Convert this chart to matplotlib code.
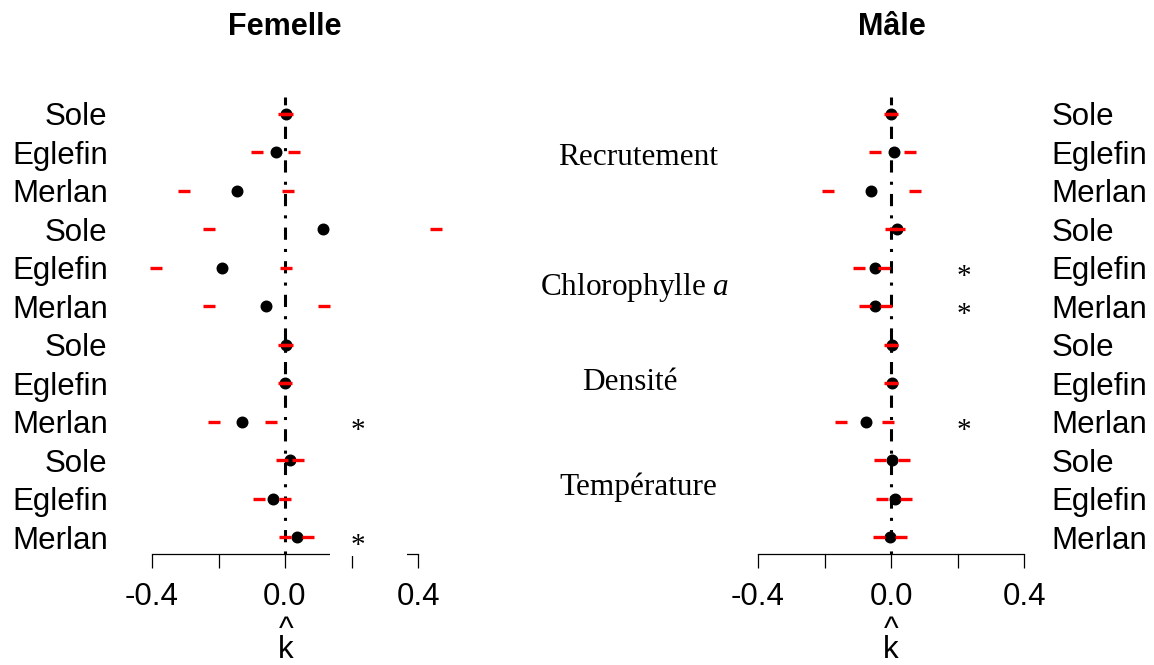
import numpy as np
import matplotlib
matplotlib.use("Agg")
import matplotlib.pyplot as plt
from matplotlib.patches import Rectangle
import matplotlib.transforms as mtransforms

plt.rcParams['font.family'] = ['Liberation Sans', 'DejaVu Sans']
plt.rcParams['mathtext.fontset'] = 'custom'
plt.rcParams['mathtext.rm'] = 'Liberation Serif'
plt.rcParams['mathtext.it'] = 'Liberation Serif:italic'

# lignes de haut en bas
especes = ['Sole', 'Eglefin', 'Merlan'] * 4
facteurs = ['Recrutement', 'Chlorophylle $a$', 'Densité', 'Température']

k_femelle = [0.002, -0.026, -0.144, 0.115, -0.189, -0.056,
             0.003, 0.001, -0.130, 0.016, -0.035, 0.036]
bas_femelle = [-0.003, -0.084, -0.304, -0.229, -0.387, -0.229,
               -0.003, -0.002, -0.214, -0.009, -0.079, 0.000]
haut_femelle = [0.005, 0.027, 0.009, 0.453, 0.004, 0.117,
                0.006, 0.003, -0.042, 0.039, 0.000, 0.069]
etoile_femelle = [0, 0, 0, 0, 0, 0, 0, 0, 1, 0, 0, 1]

k_male = [0.000, 0.010, -0.059, 0.017, -0.048, -0.049,
          0.002, 0.004, -0.076, 0.004, 0.012, -0.003]
bas_male = [-0.002, -0.047, -0.190, 0.000, -0.097, -0.078,
            -0.002, -0.002, -0.150, -0.033, -0.028, -0.037]
haut_male = [0.002, 0.058, 0.071, 0.024, -0.020, -0.014,
             0.002, 0.003, -0.010, 0.039, 0.044, 0.029]
etoile_male = [0, 0, 0, 0, 1, 1, 0, 0, 1, 0, 0, 0]

graduations = [-0.4, -0.2, 0.0, 0.2, 0.4]
etiquettes = ['-0.4', '', '0.0', '', '0.4']

W, H = 1154, 665
FS = 22.5


def panneau(ax, k, bas, haut, etoile, xlim):
    y = np.arange(1, len(k) + 1)
    ax.axvline(0, color='black', lw=2.2, dashes=(1, 3, 4, 3), zorder=1)
    ax.plot(k, y, 'o', color='black', ms=7.6, zorder=2)
    ax.plot(bas, y, '_', color='red', ms=9, mew=2.4, zorder=3)
    ax.plot(haut, y, '_', color='red', ms=9, mew=2.4, zorder=3)
    for yi, e in zip(y, etoile):
        if e:
            ax.text(0.22, yi + 0.42, '*', family='Liberation Serif',
                    fontsize=21, ha='center', va='baseline', zorder=5)
    ax.set_xlim(*xlim)
    ax.set_ylim(12.44, 0.56)
    for s in ['top', 'left', 'right']:
        ax.spines[s].set_visible(False)
    ax.spines['bottom'].set_bounds(-0.4, 0.4)
    ax.spines['bottom'].set_linewidth(0.9)
    ax.set_xticks(graduations)
    ax.set_xticklabels(etiquettes)
    ax.tick_params(axis='x', length=10, width=0.9, labelsize=FS, pad=10)
    ax.set_yticks(y)
    ax.set_yticklabels(especes)
    ax.tick_params(axis='y', length=0, labelsize=FS, pad=8)
    ax.patch.set_visible(False)


fig = plt.figure(figsize=(W / 100, H / 100), dpi=100)
bas_px, haut_px = 554, 97
axF = fig.add_axes([118.75 / W, 1 - bas_px / H, 332.5 / W, (bas_px - haut_px) / H])
axM = fig.add_axes([724.8 / W, 1 - bas_px / H, 315.9 / W, (bas_px - haut_px) / H])

panneau(axF, k_femelle, bas_femelle, haut_femelle, etoile_femelle, (-0.5, 0.5))
panneau(axM, k_male, bas_male, haut_male, etoile_male, (-0.5, 0.45))
axM.yaxis.tick_right()

# morceau d'axe masque sous l'etoile
trans = mtransforms.blended_transform_factory(axF.transData, axF.transAxes)
axF.add_patch(Rectangle((0.136, -0.0044), 0.232, 0.0175, transform=trans,
                        facecolor='white', edgecolor='none', clip_on=False, zorder=4))

fig.text(285 / W, 1 - 35 / H, 'Femelle', ha='center', va='baseline',
         fontsize=22, fontweight='bold')
fig.text(892 / W, 1 - 35 / H, 'Mâle', ha='center', va='baseline',
         fontsize=22, fontweight='bold')

# k chapeau
for xc in [286, 891]:
    fig.text(xc / W, 1 - 664.5 / H, '^\nk', ha='center', va='bottom',
             multialignment='center', linespacing=0.55, fontsize=FS)

centres = [(638, 165), (635, 295), (630, 390), (638, 495)]
for (xc, yb), txt in zip(centres, facteurs):
    fig.text(xc / W, 1 - yb / H, txt, ha='center', va='baseline',
             family='Liberation Serif', fontsize=FS)

fig.savefig('out.png', dpi=100)
